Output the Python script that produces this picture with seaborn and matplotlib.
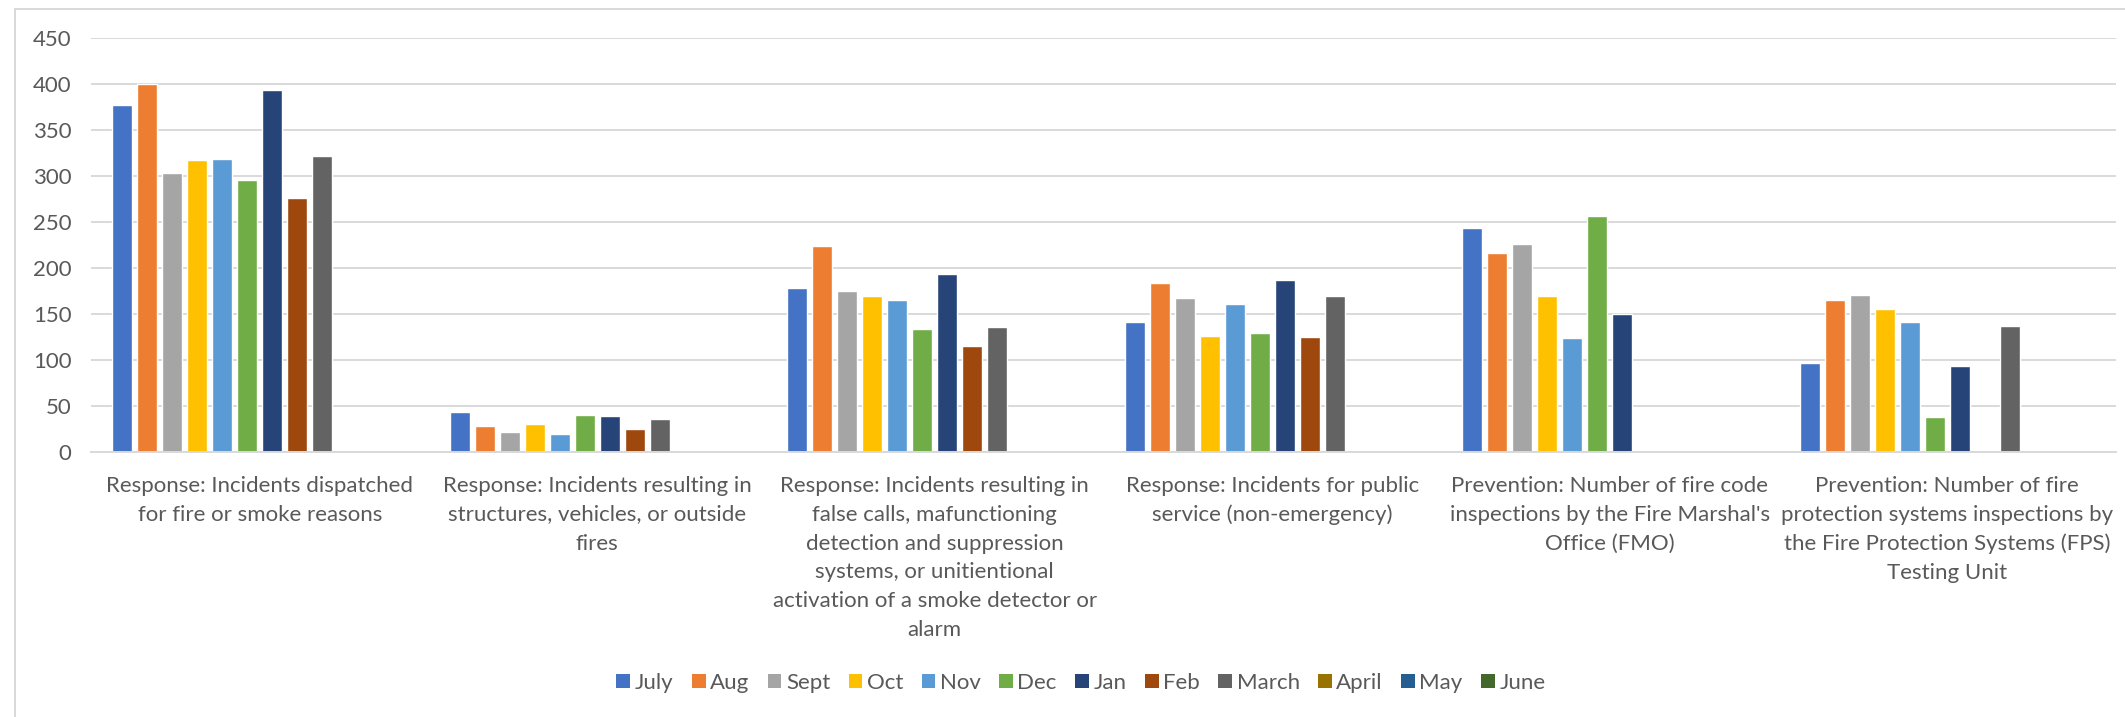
import numpy as np
import pandas as pd
import matplotlib
matplotlib.use("Agg")
import matplotlib.pyplot as plt
from matplotlib.patches import Patch, Rectangle
import seaborn as sns

# Monthly counts per activity (blank months have no reported figure)
categories = [
    "Response: Incidents dispatched\nfor fire or smoke reasons",
    "Response: Incidents resulting in\nstructures, vehicles, or outside\nfires",
    "Response: Incidents resulting in\nfalse calls, mafunctioning\ndetection and suppression\nsystems, or unitientional\nactivation of a smoke detector or\nalarm",
    "Response: Incidents for public\nservice (non-emergency)",
    "Prevention: Number of fire code\ninspections by the Fire Marshal's\nOffice (FMO)",
    "Prevention: Number of fire\nprotection systems inspections by\nthe Fire Protection Systems (FPS)\nTesting Unit",
]
months = ["July", "Aug", "Sept", "Oct", "Nov", "Dec", "Jan", "Feb", "March",
          "April", "May", "June"]

nan = np.nan
july  = [377, 44, 178, 141, 243, 97]
aug   = [400, 28, 224, 184, 216, 165]
sept  = [303, 22, 175, 167, 226, 171]
octo  = [317, 30, 170, 126, 170, 155]
nov   = [318, 20, 165, 161, 124, 141]
dec   = [296, 40, 134, 129, 256, 38]
jan   = [394, 39, 193, 187, 150, 93]
feb   = [276, 25, 115, 125, nan, nan]
march = [322, 36, 136, 170, nan, 137]
april = [nan] * 6
may   = [nan] * 6
june  = [nan] * 6

series = [july, aug, sept, octo, nov, dec, jan, feb, march, april, may, june]
month_colors = ["#4472C4", "#ED7D31", "#A5A5A5", "#FFC000", "#5B9BD5", "#70AD47",
                "#264478", "#9E480E", "#636363", "#997300", "#255E91", "#43682B"]

rows = []
for m, vals in zip(months, series):
    for c, v in zip(categories, vals):
        rows.append({"category": c, "month": m, "value": v})
df = pd.DataFrame(rows).dropna(subset=["value"])

sns.set_theme(style="white")
plt.rcParams["font.family"] = ["Lato", "DejaVu Sans"]
text_color = "#595959"
grid_color = "#D9D9D9"
fs = 16

fig = plt.figure(figsize=(21.25, 7.17), dpi=100)
ax = fig.add_axes([91 / 2125, 1 - 452 / 717, (2116 - 91) / 2125, (452 - 38) / 717])

sns.barplot(data=df, x="category", y="value", hue="month",
            order=categories, hue_order=months,
            palette=dict(zip(months, month_colors)),
            width=0.889, gap=0.2, errorbar=None, legend=False,
            saturation=1, ax=ax)

ax.set_ylim(0, 450)
ax.set_xlim(-0.5, len(categories) - 0.5)
ax.set_yticks(np.arange(0, 451, 50))
ax.yaxis.grid(True, color=grid_color, linewidth=1.4)
ax.set_axisbelow(True)
for side in ["top", "right", "left"]:
    ax.spines[side].set_visible(False)
ax.spines["bottom"].set_color(grid_color)
ax.spines["bottom"].set_linewidth(1.4)
ax.set_xlabel("")
ax.set_ylabel("")
ax.tick_params(axis="y", length=0, pad=14, labelsize=fs, labelcolor=text_color)
ax.tick_params(axis="x", length=0, pad=17, labelsize=fs, labelcolor=text_color)
for lbl in ax.get_xticklabels():
    lbl.set_linespacing(1.56)
    lbl.set_horizontalalignment("center")

handles = [Patch(facecolor=c, edgecolor="none", label=m)
           for m, c in zip(months, month_colors)]
fig.legend(handles=handles, loc="center", bbox_to_anchor=(1081 / 2125, 1 - 683 / 717),
           ncol=12, frameon=False, fontsize=fs, labelcolor=text_color,
           handlelength=0.62, handleheight=0.62, handletextpad=0.2,
           columnspacing=0.83)

# chart-area frame
fig.add_artist(Rectangle((15 / 2125, -0.1), 1.2, 1.1 - 9 / 717,
                         transform=fig.transFigure, fill=False,
                         edgecolor=grid_color, linewidth=1.4))

fig.savefig("out.png", dpi=100, facecolor="white")
